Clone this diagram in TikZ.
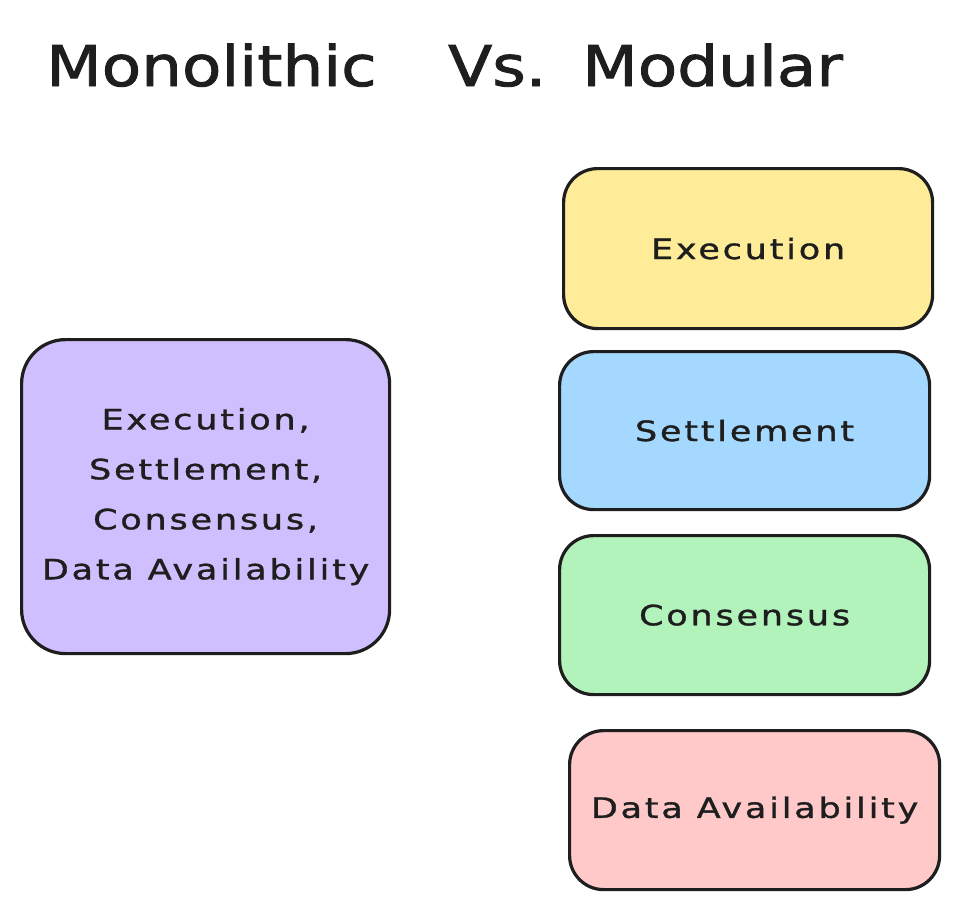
\documentclass[tikz,border=0pt]{standalone}
\usepackage{fontspec}
\newfontfamily\bodyfont[FakeStretch=1.25,LetterSpace=10,FakeBold=1.2]{DejaVu Sans}
\newfontfamily\titlefont[FakeStretch=1.15,FakeBold=1.6]{DejaVu Sans}
\definecolor{ink}{HTML}{1E1E1E}
\definecolor{cviolet}{HTML}{D0BFFF}
\definecolor{cyellow}{HTML}{FFEC99}
\definecolor{cblue}{HTML}{A5D8FF}
\definecolor{cgreen}{HTML}{B2F2BB}
\definecolor{cred}{HTML}{FFC9C9}
\begin{document}
\begin{tikzpicture}[x=1pt,y=-1pt,
  box/.style={draw=ink, line width=3.2pt, rounded corners=34pt, anchor=north west,
    text=ink, font=\bodyfont\fontsize{28}{50}\selectfont, align=center, inner sep=0pt},
  titletext/.style={anchor=base west, text=ink, inner sep=0pt,
    font=\titlefont\fontsize{56}{60}\selectfont}]
\useasboundingbox (0,0) rectangle (956,908);
\fill[white] (0,0) rectangle (956,908);
\node[titletext] (t1) at (46,86) {Monolithic};
\node[titletext] (t2) at (448,86) {Vs.\hspace{36pt}Modular};
\node[box, fill=cviolet, rounded corners=44pt, minimum width=368pt, minimum height=314pt] (mono) at (20,338)
  {Execution,\\Settlement,\\Consensus,\\Data Availability};
\node[box, fill=cyellow, minimum width=369pt, minimum height=160pt] (exec) at (562,167) {Execution};
\node[box, fill=cblue, minimum width=370pt, minimum height=158pt] (sett) at (558,350) {Settlement};
\node[box, fill=cgreen, minimum width=370pt, minimum height=159pt] (cons) at (558,534) {Consensus};
\node[box, fill=cred, minimum width=370pt, minimum height=159pt] (da) at (568,729) {Data Availability};
\end{tikzpicture}
\end{document}
